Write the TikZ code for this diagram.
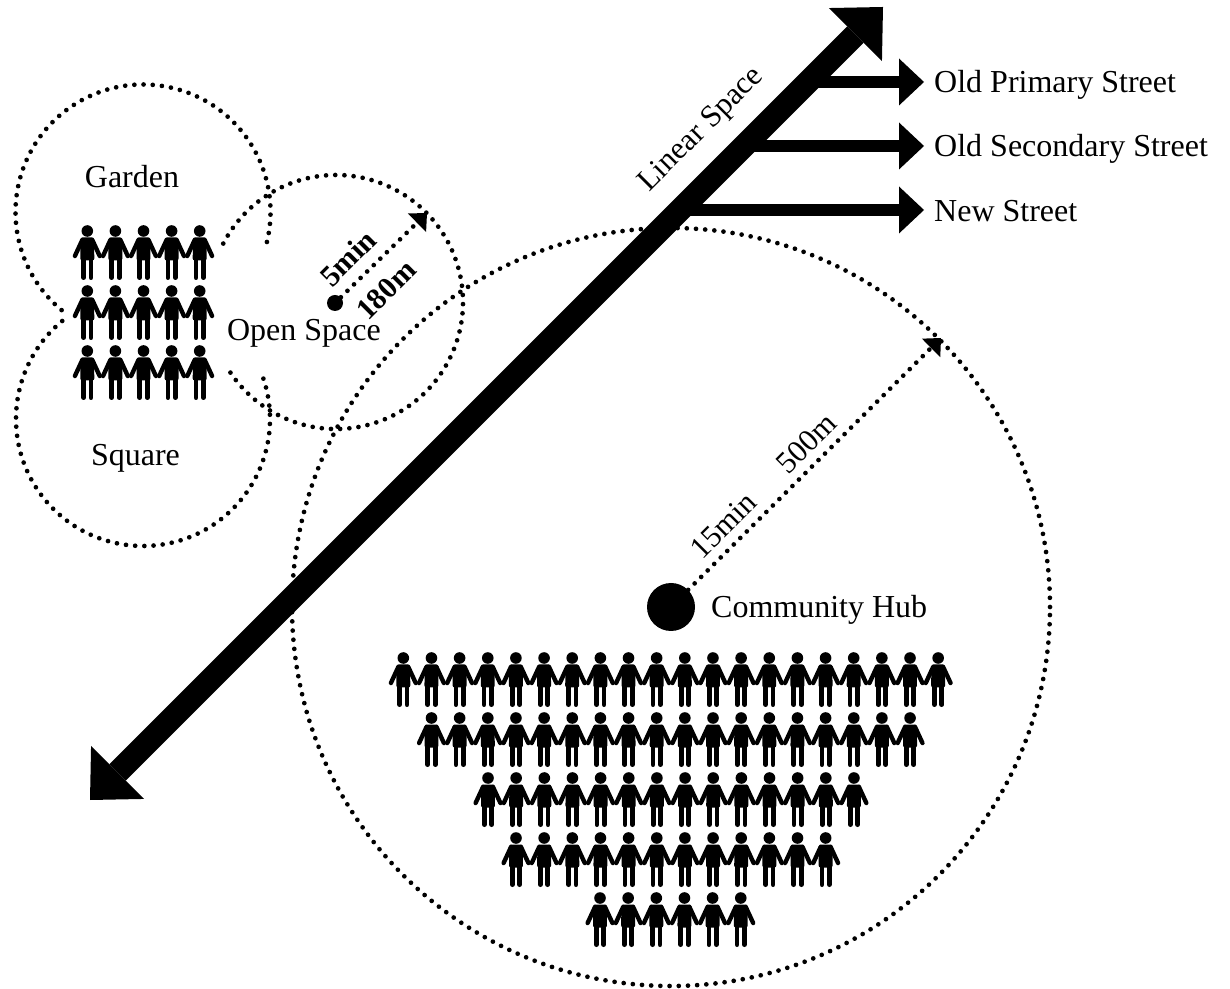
\documentclass[tikz,border=0pt]{standalone}
\usepackage{fontspec}
\setmainfont{Liberation Serif}
\usetikzlibrary{arrows.meta}
\tikzset{
    textlabel/.style={inner sep=0pt, font=\fontsize{32}{36}\selectfont},
    slopedlabel/.style={inner sep=0pt, font=\fontsize{31}{36}\selectfont, rotate=45},
    boldlabel/.style={inner sep=0pt, font=\fontsize{30}{36}\selectfont\bfseries, rotate=45},
    walk/.style={line width=4.7pt, line cap=round, dash pattern=on 0pt off 9.2pt},
    walkarrow/.style={walk, -{Triangle[length=14pt,width=26pt,line width=0pt]}},
    branch/.style={line width=11.5pt, shorten >=10pt, -{Triangle[length=25pt,width=47pt,line width=0pt]}},
    person/.pic={
        \fill (0,0) circle [radius=5.8pt];
        \fill[rounded corners=2pt] (-6.8,-6.5) -- (6.8,-6.5) -- (7,-29.5) -- (-7,-29.5) -- cycle;
        \draw[line width=4.4pt, line cap=round] (-5,-9) -- (-12.4,-25) (5,-9) -- (12.4,-25);
        \draw[line width=4.8pt, line cap=round] (-3.7,-25) -- (-3.7,-46.6) (3.7,-25) -- (3.7,-46.6);
    },
}
\begin{document}
\begin{tikzpicture}[x=1pt,y=1pt]
    \useasboundingbox (0,0) rectangle (1230,988);

    % centres of the catchments
    \coordinate (gardenC) at (143,776);
    \coordinate (squareC) at (143,569);
    \coordinate (openC) at (336,686);

    \node (hub) [circle, fill=black, minimum size=48pt, inner sep=0pt] at (671,381) {};
    \node (openDot) [circle, fill=black, minimum size=16pt, inner sep=0pt] at (335,685) {};

    \draw [walk] (hub) circle [radius=379pt];
    \draw [walk] (gardenC) ++(-13.6:127.5pt) arc [start angle=-13.6, end angle=232.3, radius=127.5pt];
    \draw [walk] (squareC) ++(129.5:127pt) arc [start angle=129.5, end angle=380.3, radius=127pt];
    \draw [walk] (openC) ++(152.6:127pt) arc [start angle=152.6, end angle=-147.8, radius=127pt];

    % linear space
    \coordinate (linearA) at (90,188);
    \coordinate (linearB) at (883,981);
    \coordinate (oldPrimaryS) at (809,906);
    \coordinate (oldSecondaryS) at (745,842);
    \coordinate (newStreetS) at (681,778);

    \draw [line width=23pt, {Triangle[length=39pt,width=75pt,line width=0pt]}-{Triangle[length=39pt,width=75pt,line width=0pt]}] (linearA) -- (linearB);

    \node (oldPrimary) [textlabel, anchor=base west] at (934,895) {Old Primary Street};
    \node (oldSecondary) [textlabel, anchor=base west] at (934,831) {Old Secondary Street};
    \node (newStreet) [textlabel, anchor=base west] at (934,766) {New Street};
    \draw [branch] (oldPrimaryS) -- (oldPrimaryS -| oldPrimary.west);
    \draw [branch] (oldSecondaryS) -- (oldSecondaryS -| oldSecondary.west);
    \draw [branch] (newStreetS) -- (newStreetS -| newStreet.west);

    \node (linear) [slopedlabel] at (702,858) {Linear Space};
    \node (garden) [textlabel, anchor=base] at (132,800) {Garden};
    \node (square) [textlabel, anchor=base] at (135.5,522) {Square};
    \node (openSpace) [textlabel, anchor=base] at (304,647) {Open Space};
    \node (community) [textlabel, anchor=base west] at (711,370) {Community Hub};

    \node (fiveMin) [boldlabel] at (348,730) {5min};
    \node (oneEighty) [boldlabel] at (386,698) {180m};
    \node (fifteenMin) [slopedlabel] at (723,463) {15min};
    \node (fiveHundred) [slopedlabel] at (806,545) {500m};

    \coordinate (openEnd) at (427,775);
    \coordinate (hubEnd) at (941,650);
    \draw [walkarrow] (openDot) -- (openEnd);
    \draw [walkarrow] (hub) -- (hubEnd);

    % small group
    \foreach \y in {757,697,637}
        \foreach \i in {0,...,4}
            \pic at ({87.3+28.1*\i},\y) {person};

    % large group
    \foreach \y/\xa/\n in {330/403.3/19, 270/431.5/17, 210/488/13, 150/516/11, 90/600/5}
        \foreach \i in {0,...,\n}
            \pic at ({\xa+28.15*\i},\y) {person};
\end{tikzpicture}
\end{document}
